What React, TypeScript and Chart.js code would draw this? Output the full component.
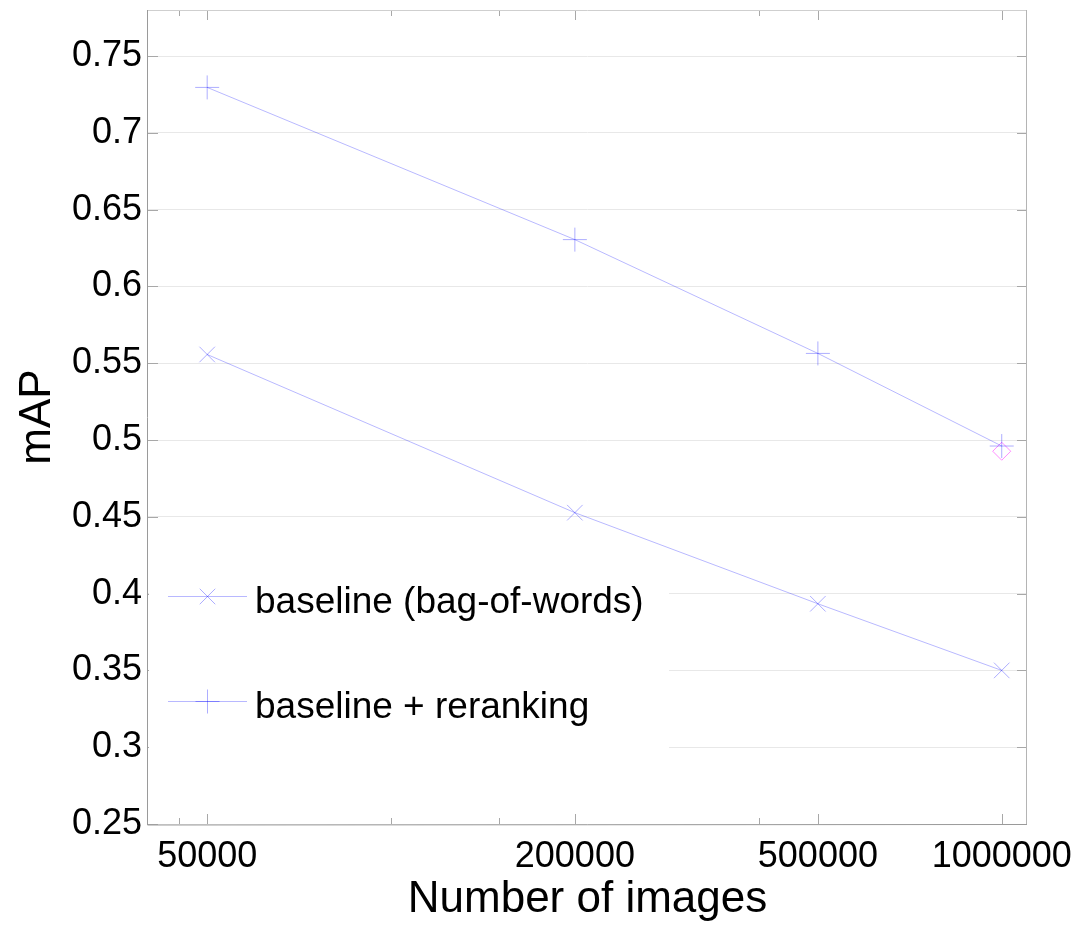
import React, { useEffect, useRef } from 'react';
import { Chart, registerables } from 'chart.js';

Chart.register(...registerables);

// ---- data ----
const imageCounts = [50000, 200000, 500000, 1000000];
const baselineMAP = [0.5557, 0.4527, 0.3934, 0.35];
const rerankMAP = [0.7296, 0.6305, 0.5564, 0.4961];
const extraCounts = [1000000];
const extraMAP = [0.4927];
const seriesLabels = ['baseline (bag-of-words)', 'baseline + reranking'];
const xMajorTicks = [50000, 200000, 500000, 1000000];
const xMinorTicks = [45000, 100000, 150000, 400000];
const yTicks = [0.25, 0.3, 0.35, 0.4, 0.45, 0.5, 0.55, 0.6, 0.65, 0.7, 0.75];

const FONT = "'Liberation Sans', Arial, Helvetica, sans-serif";
const LINE_COLOR = 'rgba(0,0,255,0.28)';
const MARK_COLOR = 'rgba(0,0,255,0.32)';

function drawMarker(ctx: CanvasRenderingContext2D, style: string, x: number, y: number, r: number) {
  ctx.beginPath();
  if (style === 'cross') {
    ctx.moveTo(x - r, y);
    ctx.lineTo(x + r, y);
    ctx.moveTo(x, y - r);
    ctx.lineTo(x, y + r);
  } else {
    const d = r * Math.SQRT1_2;
    ctx.moveTo(x - d, y - d);
    ctx.lineTo(x + d, y + d);
    ctx.moveTo(x - d, y + d);
    ctx.lineTo(x + d, y - d);
  }
  ctx.stroke();
}

const matlabFrame = {
  id: 'matlabFrame',
  afterDraw(chart: any) {
    const { ctx, chartArea: a, scales } = chart;
    const xs = scales.x;
    const ys = scales.y;
    ctx.save();
    ctx.lineWidth = 1;
    // inward tick marks
    ctx.strokeStyle = '#a8a8a8';
    const allX = [...xMajorTicks.map((v) => [v, 10]), ...xMinorTicks.map((v) => [v, 6])];
    for (const [v, len] of allX) {
      const px = Math.round(xs.getPixelForValue(v)) + 0.5;
      ctx.beginPath();
      ctx.moveTo(px, a.bottom);
      ctx.lineTo(px, a.bottom - len);
      ctx.moveTo(px, a.top);
      ctx.lineTo(px, a.top + len);
      ctx.stroke();
    }
    for (const v of yTicks) {
      const py = Math.round(ys.getPixelForValue(v)) + 0.5;
      ctx.beginPath();
      ctx.moveTo(a.left, py);
      ctx.lineTo(a.left + 10, py);
      ctx.moveTo(a.right, py);
      ctx.lineTo(a.right - 10, py);
      ctx.stroke();
    }
    // legend (inside the axes, lower left)
    const lx = a.left + 1;
    const ly = a.bottom - 272;
    ctx.fillStyle = '#ffffff';
    ctx.fillRect(lx, ly, 520, 210);
    const ds = chart.data.datasets;
    const rows = [a.bottom - 228, a.bottom - 123];
    for (let i = 0; i < 2; i++) {
      const d = ds[i];
      const y = Math.round(rows[i]) + 0.5;
      ctx.lineWidth = 1;
      ctx.strokeStyle = LINE_COLOR;
      ctx.beginPath();
      ctx.moveTo(a.left + 20, y);
      ctx.lineTo(a.left + 99, y);
      ctx.stroke();
      ctx.strokeStyle = MARK_COLOR;
      drawMarker(ctx, d.pointStyle, Math.round(a.left + 59) + 0.5, y, d.pointRadius);
      ctx.fillStyle = '#000';
      ctx.font = `37px ${FONT}`;
      ctx.textBaseline = 'alphabetic';
      ctx.textAlign = 'left';
      ctx.fillText(seriesLabels[i], a.left + 107, rows[i] + 17);
    }
    // frame
    ctx.strokeStyle = '#cfcfcf';
    ctx.beginPath();
    ctx.moveTo(a.left, a.top + 0.5);
    ctx.lineTo(a.right, a.top + 0.5);
    ctx.stroke();
    ctx.strokeStyle = '#b4b4b4';
    ctx.beginPath();
    ctx.moveTo(a.right - 0.5, a.top);
    ctx.lineTo(a.right - 0.5, a.bottom);
    ctx.stroke();
    ctx.strokeStyle = '#9a9a9a';
    ctx.beginPath();
    ctx.moveTo(a.left - 0.5, a.top);
    ctx.lineTo(a.left - 0.5, a.bottom + 1);
    ctx.lineTo(a.right, a.bottom + 0.5);
    ctx.stroke();
    ctx.restore();
  },
};

export default function App() {
  const ref = useRef<HTMLCanvasElement>(null);
  useEffect(() => {
    if (!ref.current) return;
    const chart = new Chart(ref.current, {
      type: 'line',
      data: {
        datasets: [
          {
            label: seriesLabels[0],
            data: imageCounts.map((x, i) => ({ x, y: baselineMAP[i] })),
            borderColor: LINE_COLOR,
            borderWidth: 1,
            pointStyle: 'crossRot',
            pointRadius: 11,
            pointBorderColor: MARK_COLOR,
            pointBorderWidth: 1,
            fill: false,
            tension: 0,
          },
          {
            label: seriesLabels[1],
            data: imageCounts.map((x, i) => ({ x, y: rerankMAP[i] })),
            borderColor: LINE_COLOR,
            borderWidth: 1,
            pointStyle: 'cross',
            pointRadius: 12,
            pointBorderColor: MARK_COLOR,
            pointBorderWidth: 1,
            fill: false,
            tension: 0,
          },
          {
            label: 'extra',
            data: extraCounts.map((x, i) => ({ x, y: extraMAP[i] })),
            showLine: false,
            borderColor: 'rgba(255,0,255,0.4)',
            pointStyle: 'rectRot',
            pointRadius: 9,
            pointBorderColor: 'rgba(255,0,255,0.45)',
            pointBackgroundColor: 'rgba(0,0,0,0)',
            pointBorderWidth: 1,
          },
        ],
      } as any,
      options: {
        animation: false,
        responsive: false,
        layout: { autoPadding: false, padding: { top: 10, right: 53, left: 0, bottom: 0 } },
        plugins: { legend: { display: false }, tooltip: { enabled: false } },
        scales: {
          x: {
            type: 'logarithmic',
            bounds: 'data',
            min: 40000,
            max: 1100000,
            afterBuildTicks: (s: any) => {
              s.ticks = [...xMinorTicks, ...xMajorTicks].sort((p, q) => p - q).map((v) => ({ value: v }));
            },
            afterFit: (s: any) => {
              s.height = 102;
              s.paddingLeft = 0;
              s.paddingRight = 0;
            },
            grid: { display: false, drawTicks: false },
            border: { display: false },
            ticks: {
              autoSkip: false,
              maxRotation: 0,
              minRotation: 0,
              padding: 11,
              color: '#000',
              font: { family: FONT, size: 36 },
              callback: (v: any) => (xMajorTicks.includes(Number(v)) ? String(v) : ''),
            },
            title: {
              display: true,
              text: 'Number of images',
              color: '#000',
              font: { family: FONT, size: 44 },
              padding: { top: 0, bottom: 0 },
            },
          },
          y: {
            type: 'linear',
            bounds: 'data',
            min: 0.25,
            max: 0.78,
            afterBuildTicks: (s: any) => {
              s.ticks = yTicks.map((v) => ({ value: v }));
            },
            afterFit: (s: any) => {
              s.width = 148;
              s.paddingTop = 0;
              s.paddingBottom = 0;
            },
            grid: { color: '#e8e8e8', drawTicks: false },
            border: { display: false },
            ticks: {
              padding: 6,
              color: '#000',
              font: { family: FONT, size: 36 },
              callback: (v: any) => String(Number(Number(v).toFixed(2))),
            },
            title: {
              display: true,
              text: 'mAP',
              color: '#000',
              font: { family: FONT, size: 44 },
              padding: { top: 11, bottom: 0 },
            },
          },
        },
      } as any,
      plugins: [matlabFrame],
    });
    return () => chart.destroy();
  }, []);
  return (
    <div style={{ position: 'absolute', left: 0, top: 0, width: 1080, height: 926, background: '#fff' }}>
      <canvas ref={ref} width={1080} height={926} style={{ display: 'block' }} />
    </div>
  );
}
